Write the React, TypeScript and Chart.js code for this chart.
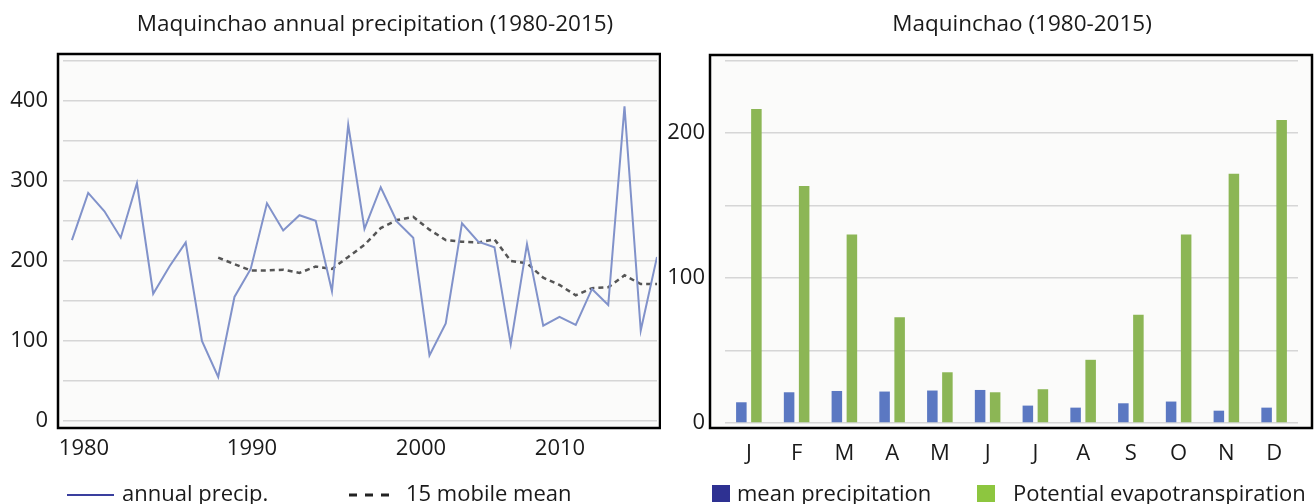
import React, { useEffect, useRef } from 'react';
import { Chart, registerables } from 'chart.js';

Chart.register(...registerables);

// ---------- Data: annual precipitation ----------
const years = [
  1979, 1980, 1981, 1982, 1983, 1984, 1985, 1986, 1987, 1988,
  1989, 1990, 1991, 1992, 1993, 1994, 1995, 1996, 1997, 1998,
  1999, 2000, 2001, 2002, 2003, 2004, 2005, 2006, 2007, 2008,
  2009, 2010, 2011, 2012, 2013, 2014, 2015,
];
const annualPrecip = [
  226, 285, 262, 229, 297, 159, 193, 223, 100, 55,
  155, 190, 272, 238, 257, 250, 162, 370, 240, 292,
  249, 229, 82, 122, 247, 224, 217, 96, 221, 119,
  130, 120, 165, 145, 393, 113, 205,
];
const mobileMean = [
  null, null, null, null, null, null, null, null, null, 204,
  196, 188, 188, 189, 185, 193, 190, 205, 220, 241,
  251, 255, 239, 226, 224, 223, 227, 200, 197, 179,
  170, 157, 166, 167, 182, 171, 171,
];
const yearTickAt = [1979.74, 1990.08, 2000.48, 2009.03];
const yearTickLabels = ['1980', '1990', '2000', '2010'];

// ---------- Data: monthly ----------
const months = ['J', 'F', 'M', 'A', 'M', 'J', 'J', 'A', 'S', 'O', 'N', 'D'];
const meanPrecipitation = [14.3, 21.2, 22.1, 21.7, 22.4, 22.8, 12, 10.6, 13.6, 14.8, 8.5, 10.6];
const potentialEvapotranspiration = [216.6, 163.5, 130, 72.9, 35, 21.2, 23.3, 43.6, 74.7, 130, 172, 209];

const FONT = '"Open Sans", "Noto Sans", sans-serif';
const TEXT = '#1a1a1a';
const GRID = '#d6d6d6';

type LegendItem = { kind: 'line' | 'dash' | 'box'; color: string; x0: number; x1: number; textX: number };
type DecorCfg = {
  frameLeft: number;
  frameRight: number;
  title: string;
  titleX: number;
  titleY: number;
  titleSize: number;
  legendSize: number;
  legendY: number;
  legend: LegendItem[];
};

function makeDecor(cfg: DecorCfg) {
  return {
    id: 'decor',
    beforeDraw(chart: any) {
      const { ctx, chartArea: a } = chart;
      ctx.save();
      ctx.fillStyle = '#fbfbfa';
      ctx.fillRect(a.left - cfg.frameLeft, a.top, a.right - a.left + cfg.frameLeft + cfg.frameRight, a.bottom - a.top);
      ctx.restore();
    },
    afterDraw(chart: any) {
      const { ctx, chartArea: a } = chart;
      ctx.save();
      ctx.strokeStyle = '#000';
      ctx.lineWidth = 2.5;
      ctx.setLineDash([]);
      ctx.strokeRect(a.left - cfg.frameLeft, a.top, a.right - a.left + cfg.frameLeft + cfg.frameRight, a.bottom - a.top);

      ctx.fillStyle = TEXT;
      ctx.font = `${cfg.titleSize}px ${FONT}`;
      ctx.textAlign = 'center';
      ctx.textBaseline = 'alphabetic';
      ctx.fillText(cfg.title, cfg.titleX, cfg.titleY);

      ctx.font = `${cfg.legendSize}px ${FONT}`;
      ctx.textAlign = 'left';
      cfg.legend.forEach((item, i) => {
        const ds = chart.data.datasets[i];
        const y = cfg.legendY;
        if (item.kind === 'box') {
          ctx.fillStyle = item.color;
          ctx.fillRect(item.x0, y - 16, item.x1 - item.x0, 17);
        } else {
          ctx.beginPath();
          ctx.strokeStyle = item.color;
          ctx.lineWidth = item.kind === 'dash' ? 3 : 2;
          ctx.setLineDash(item.kind === 'dash' ? [8, 8] : []);
          ctx.moveTo(item.x0, y - 6);
          ctx.lineTo(item.x1, y - 6);
          ctx.stroke();
          ctx.setLineDash([]);
        }
        ctx.fillStyle = TEXT;
        ctx.fillText(ds.label, item.textX, y);
      });
      ctx.restore();
    },
  };
}

function leftConfig(): any {
  return {
    type: 'line',
    data: {
      labels: years,
      datasets: [
        {
          label: 'annual precip.',
          data: annualPrecip,
          borderColor: '#8192ca',
          borderWidth: 2,
          pointRadius: 0,
          tension: 0,
        },
        {
          label: '15 mobile mean',
          data: mobileMean,
          borderColor: '#555555',
          borderDash: [5, 4],
          borderWidth: 2.5,
          pointRadius: 0,
          tension: 0,
        },
      ],
    },
    options: {
      responsive: false,
      animation: false,
      layout: { padding: { top: 54, left: 0, right: 4, bottom: 0 } },
      plugins: { legend: { display: false }, title: { display: false }, tooltip: { enabled: false } },
      scales: {
        x: {
          type: 'linear',
          min: 1978.45,
          max: 2015,
          grid: { display: false },
          border: { display: false },
          afterBuildTicks: (s: any) => {
            s.ticks = yearTickAt.map((v) => ({ value: v }));
          },
          afterFit: (s: any) => {
            s.height = 76;
          },
          ticks: {
            autoSkip: false,
            maxRotation: 0,
            padding: 0,
            color: TEXT,
            font: { family: FONT, size: 22 },
            callback: (_v: any, i: number) => yearTickLabels[i],
          },
        },
        y: {
          min: -8.7,
          max: 458.4,
          afterFit: (s: any) => {
            s.width = 63;
          },
          grid: { color: GRID, lineWidth: 1.5, drawTicks: false },
          border: { display: false },
          ticks: {
            stepSize: 50,
            includeBounds: false,
            padding: 15,
            color: TEXT,
            font: { family: FONT, size: 22 },
            callback: (v: number) => (v % 100 === 0 ? String(v) : ''),
          },
        },
      },
    },
    plugins: [
      makeDecor({
        frameLeft: 5,
        frameRight: 3,
        title: 'Maquinchao annual precipitation (1980-2015)',
        titleX: 375,
        titleY: 30.5,
        titleSize: 22.5,
        legendSize: 22,
        legendY: 501,
        legend: [
          { kind: 'line', color: '#3a3f9e', x0: 67, x1: 114, textX: 122 },
          { kind: 'dash', color: '#222222', x0: 349, x1: 391, textX: 406 },
        ],
      }),
    ],
  };
}

function rightConfig(): any {
  return {
    type: 'bar',
    data: {
      labels: months,
      datasets: [
        {
          label: 'mean precipitation',
          data: meanPrecipitation,
          backgroundColor: '#5b78c2',
          borderWidth: 0,
        },
        {
          label: 'Potential evapotranspiration',
          data: potentialEvapotranspiration,
          backgroundColor: '#8cb655',
          borderWidth: 0,
        },
      ],
    },
    options: {
      responsive: false,
      animation: false,
      datasets: { bar: { categoryPercentage: 0.63, barPercentage: 0.7 } },
      layout: { padding: { top: 55, left: 0, right: 16, bottom: 0 } },
      plugins: { legend: { display: false }, title: { display: false }, tooltip: { enabled: false } },
      scales: {
        x: {
          grid: { display: false },
          border: { display: false },
          afterFit: (s: any) => {
            s.height = 76;
          },
          ticks: {
            autoSkip: false,
            maxRotation: 0,
            padding: 5,
            color: TEXT,
            font: { family: FONT, size: 22 },
          },
        },
        y: {
          min: -3.45,
          max: 253.9,
          afterFit: (s: any) => {
            s.width = 65;
          },
          grid: { color: GRID, lineWidth: 1.5, drawTicks: false },
          border: { display: false },
          ticks: {
            stepSize: 50,
            includeBounds: false,
            padding: 20,
            color: TEXT,
            font: { family: FONT, size: 22 },
            callback: (v: number) => (v % 100 === 0 ? String(v) : ''),
          },
        },
      },
    },
    plugins: [
      makeDecor({
        frameLeft: 15,
        frameRight: 14,
        title: 'Maquinchao (1980-2015)',
        titleX: 362,
        titleY: 30.5,
        titleSize: 22.5,
        legendSize: 22,
        legendY: 501,
        legend: [
          { kind: 'box', color: '#2e3192', x0: 52, x1: 70, textX: 77 },
          { kind: 'box', color: '#8dc63f', x0: 317, x1: 335, textX: 353 },
        ],
      }),
    ],
  };
}

function ChartCanvas({ width, height, left, build }: { width: number; height: number; left: number; build: () => any }) {
  const ref = useRef<HTMLCanvasElement | null>(null);
  useEffect(() => {
    if (!ref.current) return;
    const chart = new Chart(ref.current, build());
    return () => chart.destroy();
  }, []);
  return (
    <canvas
      ref={ref}
      width={width}
      height={height}
      style={{ position: 'absolute', left, top: 0, width, height }}
    />
  );
}

export default function App() {
  return (
    <div style={{ position: 'fixed', left: 0, top: 0, width: 1314, height: 504, background: '#ffffff', overflow: 'hidden' }}>
      <ChartCanvas width={661} height={504} left={0} build={leftConfig} />
      <ChartCanvas width={654} height={504} left={660} build={rightConfig} />
    </div>
  );
}
